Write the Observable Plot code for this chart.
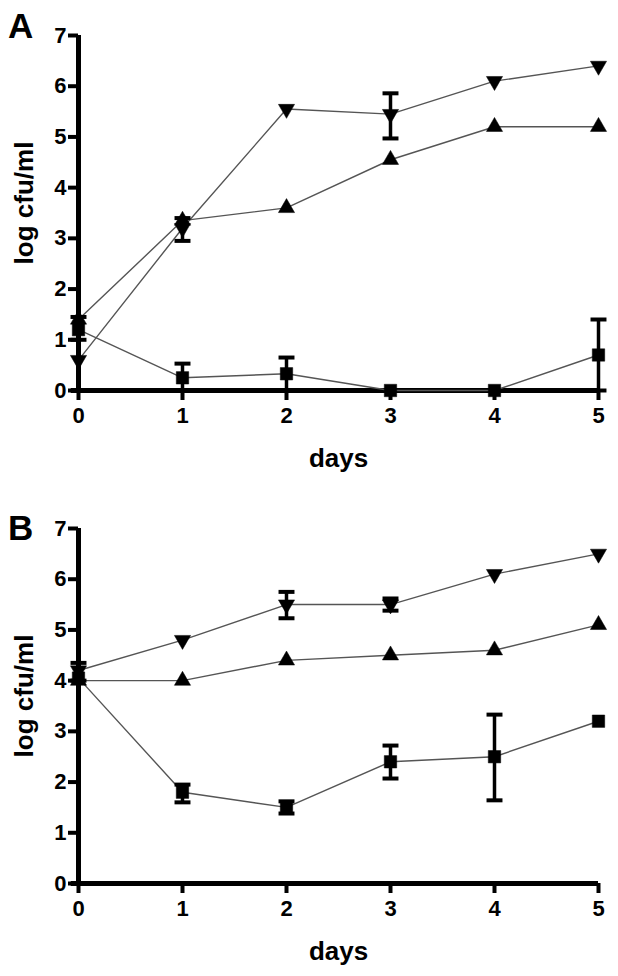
<!DOCTYPE html>
<html>
<head>
<meta charset="utf-8">
<script src="https://cdn.jsdelivr.net/npm/d3@7"></script>
<script src="https://cdn.jsdelivr.net/npm/@observablehq/plot@0.6"></script>
<style>
  html, body { margin: 0; padding: 0; background: #fff; }
  #wrap { position: relative; width: 618px; height: 976px; font-family: "Liberation Sans", Arial, sans-serif; }
  .panel { position: relative; width: 618px; height: 488px; }
  .letter { position: absolute; left: 8px; font-size: 35px; font-weight: bold; color: #000; line-height: 1; }
</style>
</head>
<body>
<div id="wrap"></div>
<script>
// ---- data ----
const days = [0, 1, 2, 3, 4, 5];
const yTicks = [0, 1, 2, 3, 4, 5, 6, 7];
const xLabel = "days";
const yLabel = "log cfu/ml";

// Panel A
const aDown   = [0.6, 3.2, 5.55, 5.45, 6.1, 6.4];
const aUp     = [1.4, 3.35, 3.6, 4.55, 5.2, 5.2];
const aSquare = [1.2, 0.25, 0.33, 0, 0, 0.7];
const aDownLo   = [null, 2.95, null, 4.97, null, null];
const aDownHi   = [null, 3.4, null, 5.86, null, null];
const aSquareLo = [1.0, 0, 0, null, null, 0];
const aSquareHi = [1.45, 0.53, 0.65, null, null, 1.4];

// Panel B
const bDown   = [4.2, 4.8, 5.5, 5.5, 6.1, 6.5];
const bUp     = [4.0, 4.0, 4.4, 4.5, 4.6, 5.1];
const bSquare = [4.05, 1.8, 1.5, 2.4, 2.5, 3.2];
const bDownLo   = [4.0, null, 5.23, 5.38, null, null];
const bDownHi   = [4.35, null, 5.75, 5.62, null, null];
const bSquareLo = [null, 1.6, 1.38, 2.07, 1.64, null];
const bSquareHi = [null, 1.95, 1.62, 2.72, 3.33, null];

// ---- helpers ----
const capSymbol = {
  draw(context, size) {
    const w = Math.sqrt(size) / 2;
    context.moveTo(-w, 0);
    context.lineTo(w, 0);
  }
};

function series(vals, name) {
  return days.map((d, i) => ({day: d, v: vals[i], s: name}));
}
function errs(lo, hi) {
  return days.map((d, i) => ({day: d, lo: lo[i], hi: hi[i]})).filter(e => e.lo != null);
}

function panel(letter, down, up, square, errList, mt, mb, letterTop) {
  const lineData = [...series(down, "down"), ...series(up, "up"), ...series(square, "square")];
  const err = errList.flat();
  const ends = err.flatMap(e => [{day: e.day, v: e.lo}, {day: e.day, v: e.hi}]);
  const plot = Plot.plot({
    width: 618,
    height: 488,
    marginLeft: 78,
    marginRight: 20,
    marginTop: mt,
    marginBottom: mb,
    x: {domain: [0, 5], label: xLabel},
    y: {domain: [0, 7], label: yLabel},
    style: {fontFamily: "Liberation Sans, Arial, sans-serif", fontSize: "22px", fontWeight: "bold",
            color: "#000", background: "#fff", overflow: "visible"},
    marks: [
      Plot.ruleX([0], {stroke: "#000", strokeWidth: 5}),
      Plot.ruleY([0], {stroke: "#000", strokeWidth: 5, x1: -0.07, x2: 5}),
      Plot.axisY({ticks: yTicks, tickFormat: d => String(d), tickSize: 10, strokeWidth: 4, tickPadding: 2,
                  fontSize: 22, label: yLabel, labelAnchor: "center", labelArrow: "none", labelOffset: 64}),
      Plot.axisX({ticks: days, tickFormat: d => String(d), tickSize: 10, strokeWidth: 4, tickPadding: 7,
                  fontSize: 22, label: xLabel, labelAnchor: "center", labelArrow: "none", labelOffset: 76}),
      Plot.line(lineData, {x: "day", y: "v", z: "s", stroke: "#555", strokeWidth: 1.4}),
      Plot.ruleX(err, {x: "day", y1: "lo", y2: "hi", stroke: "#000", strokeWidth: 3.5}),
      Plot.dot(ends, {x: "day", y: "v", symbol: capSymbol, r: 9, stroke: "#000", strokeWidth: 4, fill: "none"}),
      Plot.dot(series(up, "up"), {x: "day", y: "v", symbol: "triangle", r: 6, fill: "#000", stroke: "#000", strokeWidth: 0.5}),
      Plot.dot(series(down, "down"), {x: "day", y: "v", symbol: "triangle", rotate: 180, r: 6, fill: "#000", stroke: "#000", strokeWidth: 0.5}),
      Plot.dot(series(square, "square"), {x: "day", y: "v", symbol: "square", r: 7, fill: "#000", stroke: "#000", strokeWidth: 0.5})
    ]
  });
  // force font sizes
  plot.querySelectorAll("text").forEach(t => {
    t.style.setProperty("font-size", "22px", "important");
    t.style.setProperty("font-weight", "bold", "important");
  });
  plot.querySelectorAll('g[aria-label="y-axis label"] text, g[aria-label="x-axis label"] text').forEach(t => {
    t.style.setProperty("font-size", "26px", "important");
  });
  plot.querySelectorAll('g[aria-label="y-axis label"] text').forEach(t => t.setAttribute("dx", "10"));
  const div = document.createElement("div");
  div.className = "panel";
  const l = document.createElement("div");
  l.className = "letter";
  l.style.top = letterTop + "px";
  l.textContent = letter;
  div.appendChild(plot);
  div.appendChild(l);
  return div;
}

const wrap = document.getElementById("wrap");
wrap.appendChild(panel("A", aDown, aUp, aSquare,
  [errs(aDownLo, aDownHi), errs(aSquareLo, aSquareHi)], 35, 98, 8));
wrap.appendChild(panel("B", bDown, bUp, bSquare,
  [errs(bDownLo, bDownHi), errs(bSquareLo, bSquareHi)], 40, 93, 22));
</script>
</body>
</html>
